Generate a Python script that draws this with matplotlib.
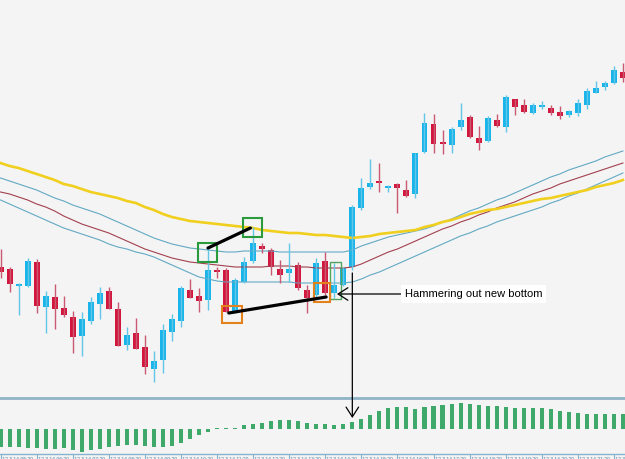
import numpy as np
import matplotlib.pyplot as plt
from matplotlib.patches import Rectangle

# 15 min candles, prices in points
opens = [133, 131, 114, 114, 138, 93, 103, 92, 83, 64,
         79, 96, 109, 91, 55, 67, 53, 31, 40, 68,
         79, 110, 104, 100, 130, 130, 88, 118, 139, 154,
         150, 131, 127, 135, 110, 105, 139, 107, 115, 133,
         192, 213, 219, 212, 216, 210, 206, 248, 276, 258,
         255, 273, 283, 262, 259, 280, 273, 301, 295, 287,
         293, 292, 288, 285, 287, 295, 307, 313, 317, 328]
highs = [151, 133, 117, 142, 141, 109, 116, 104, 89, 88,
         103, 113, 113, 98, 73, 82, 65, 49, 76, 86,
         114, 121, 112, 153, 133, 132, 122, 143, 173, 157,
         152, 140, 157, 138, 115, 142, 148, 137, 133, 195,
         222, 241, 237, 215, 217, 220, 247, 287, 286, 270,
         273, 297, 285, 274, 284, 286, 305, 301, 301, 297,
         299, 295, 294, 290, 301, 312, 319, 319, 334, 337]
lows = [122, 108, 85, 113, 87, 67, 71, 83, 47, 44,
        76, 81, 91, 54, 50, 51, 26, 18, 27, 59,
        73, 102, 88, 90, 122, 88, 87, 117, 137, 147,
        125, 117, 118, 110, 87, 103, 105, 102, 114, 130,
        190, 211, 208, 208, 187, 203, 202, 247, 247, 246,
        247, 270, 262, 250, 258, 273, 268, 285, 287, 286,
        291, 285, 281, 283, 284, 291, 307, 310, 316, 318]
closes = [128, 116, 116, 139, 94, 104, 91, 85, 63, 81,
          98, 107, 91, 54, 65, 51, 33, 39, 70, 81,
          112, 102, 99, 130, 128, 88, 120, 138, 157, 151,
          133, 125, 131, 112, 102, 137, 107, 115, 132, 193,
          212, 217, 217, 214, 212, 204, 247, 277, 256, 256,
          271, 280, 263, 257, 282, 274, 303, 293, 288, 295,
          295, 287, 284, 289, 297, 309, 312, 317, 330, 322]

ma_slow = [237, 234, 232, 229, 226, 223, 220, 216, 214, 211,
           208, 206, 204, 202, 199, 197, 193, 190, 186, 183,
           181, 179, 178, 177, 176, 175, 174, 173, 172, 170,
           169, 168, 167, 167, 166, 165, 165, 164, 163, 162,
           163, 164, 166, 167, 168, 169, 170, 173, 175, 178,
           180, 183, 186, 188, 190, 191, 193, 195, 197, 199,
           201, 202, 204, 206, 208, 210, 213, 215, 217, 220]
band_up = [222, 219, 216, 213, 210, 206, 202, 199, 195, 192,
           189, 186, 182, 178, 174, 170, 166, 162, 159, 156,
           154, 152, 151, 150, 149, 148, 148, 149, 149, 149,
           149, 148, 148, 148, 148, 148, 148, 148, 148, 150,
           154, 157, 160, 163, 165, 167, 169, 171, 174, 178,
           181, 185, 189, 192, 196, 200, 203, 207, 211, 215,
           219, 223, 226, 230, 233, 236, 239, 243, 246, 249]
band_mid = [208, 206, 203, 200, 196, 193, 189, 184, 180, 176,
            173, 170, 167, 163, 159, 155, 151, 148, 145, 142,
            140, 138, 137, 136, 135, 134, 133, 133, 133, 133,
            134, 134, 134, 133, 133, 132, 132, 132, 132, 133,
            136, 140, 144, 148, 151, 155, 159, 163, 167, 171,
            174, 178, 181, 185, 188, 192, 195, 198, 202, 206,
            209, 212, 216, 219, 222, 225, 228, 231, 234, 237]
band_low = [200, 196, 192, 188, 184, 180, 176, 172, 169, 166,
            163, 160, 156, 153, 151, 148, 146, 143, 139, 135,
            131, 127, 123, 121, 119, 118, 118, 118, 118, 118,
            118, 118, 118, 117, 117, 117, 117, 117, 117, 118,
            121, 125, 128, 132, 136, 140, 144, 148, 152, 156,
            160, 164, 167, 171, 174, 178, 181, 184, 187, 190,
            193, 197, 200, 204, 207, 211, 215, 219, 223, 227]

hist = [-18, -18, -18, -19, -19, -20, -20, -19, -21, -23,
        -21, -20, -18, -17, -16, -16, -17, -18, -18, -17,
        -14, -10, -6, -2.5, 0.7, 1, 1.5, 4, 5, 6,
        8, 9.5, 9.5, 8, 6, 5.5, 5, 4, 5, 7,
        10, 14, 18.5, 21, 22.5, 22, 20.5, 22.5, 23.5, 24.5,
        25.5, 26.5, 25.5, 24, 23, 23, 22, 21.5, 21.5, 21.5,
        21.5, 20, 18.5, 17.5, 16, 15, 15, 15, 15.5, 15.5]

tick_labels = ["12.3.14 05:20", "12.3.14 06:20", "12.3.14 07:20", "12.3.14 08:20",
               "12.3.14 09:20", "12.3.14 10:20", "12.3.14 11:20", "12.3.14 12:20",
               "12.3.14 13:20", "12.3.14 14:20", "12.3.14 15:20", "12.3.14 16:20",
               "12.3.14 17:20", "12.3.14 18:20", "12.3.14 19:20", "12.3.14 20:20",
               "12.3.14 21:20", "12.3.14 22:20"]

BG = '#f4f4f4'
UP, UP_WICK = '#19b4ea', '#62c6e8'
DN, DN_WICK = '#d2173f', '#c85a72'

o = np.array(opens); h = np.array(highs); l = np.array(lows); c = np.array(closes)
x = np.arange(len(o))
up = c >= o
xlim = (-0.06, 69.23)

fig = plt.figure(figsize=(6.25, 4.59), dpi=100, facecolor=BG)
ax = fig.add_axes([0, 62 / 459, 1, 397 / 459], facecolor=BG)
ax2 = fig.add_axes([0, 5 / 459, 1, 56 / 459], facecolor=BG)

# moving averages / bands
ax.plot(x, band_up, color='#62a9c4', lw=0.8)
ax.plot(x, band_mid, color='#a3404f', lw=0.8)
ax.plot(x, band_low, color='#62a9c4', lw=0.8)
ax.plot(x, ma_slow, color='#f1cf1e', lw=1.9)

# candles
ax.vlines(x, l, h, colors=np.where(up, UP_WICK, DN_WICK), lw=1)
ax.bar(x, np.maximum(np.abs(c - o), 1.5), bottom=np.minimum(o, c), width=0.66,
       color=np.where(up, UP, DN), linewidth=0)

# annotations
green, orange = '#2b9a3c', '#e3821c'
for (x0, y0, w, hh, col, lw) in [(21.9, 138, 2.1, 19, green, 1.5),
                                 (26.9, 163, 2.1, 19, green, 1.5),
                                 (36.5, 101, 1.3, 37, '#52a35e', 1.0),
                                 (24.6, 77, 2.2, 17, orange, 1.5),
                                 (34.8, 98, 1.7, 19, orange, 1.5)]:
    ax.add_patch(Rectangle((x0, y0), w, hh, fill=False, ec=col, lw=lw, zorder=5))
ax.plot([23.0, 27.7], [152, 172], color='black', lw=2.3, solid_capstyle='round', zorder=6)
ax.plot([25.3, 36.1], [87, 103], color='black', lw=2.3, solid_capstyle='round', zorder=6)

ax.annotate('Hammering out new bottom', xy=(37.3, 106), xytext=(44.8, 106),
            ha='left', va='center', fontsize=8, family=['Liberation Sans', 'DejaVu Sans'],
            bbox=dict(fc='white', ec='none', boxstyle='square,pad=0.35'),
            arrowprops=dict(arrowstyle='->,head_length=0.7,head_width=0.45', color='black',
                            lw=0.9, shrinkA=0, shrinkB=0, mutation_scale=10),
            zorder=7)

ax.set_xlim(*xlim)
ax.set_ylim(3, 400)
ax.set_xticks([]); ax.set_yticks([])
for s in ax.spines.values():
    s.set_visible(False)

# lower histogram panel
ax2.bar(x, hist, width=0.45, color='#3ea96a', linewidth=0)
ax2.set_xlim(*xlim)
ax2.set_ylim(-25, 31)
ax2.set_yticks([])
for s in ['left', 'right']:
    ax2.spines[s].set_visible(False)
ax2.spines['top'].set_color('#8fb4c8')
ax2.spines['top'].set_linewidth(2)
ax2.spines['bottom'].set_color('#86b4cf')
ax2.spines['bottom'].set_linewidth(1)
ax2.set_xticks(x[::4])
ax2.set_xticklabels([' ' + t for t in tick_labels], ha='left', fontsize=3.6,
                    family=['Liberation Sans', 'DejaVu Sans'], color='#4f86ab')
ax2.tick_params(axis='x', direction='out', length=5, color='#86b4cf', pad=-3.0)

ax2.annotate('', xy=(39, 11), xycoords='data', xytext=(39, 127), textcoords=ax.transData,
             arrowprops=dict(arrowstyle='->,head_length=0.7,head_width=0.45', color='black',
                             lw=0.9, shrinkA=0, shrinkB=0, mutation_scale=10),
             annotation_clip=False, zorder=8)

fig.savefig('out.png', dpi=100, facecolor=BG)
